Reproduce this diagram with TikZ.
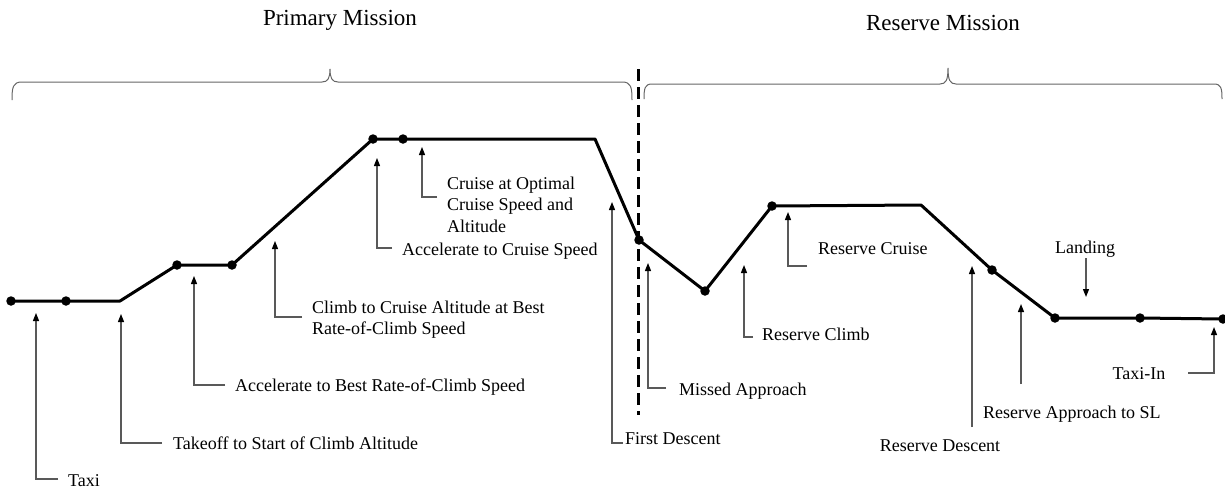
\documentclass[tikz,border=0pt]{standalone}
\usepackage{fontspec}
\setmainfont{Liberation Serif}
\usetikzlibrary{arrows.meta}
\begin{document}
\begin{tikzpicture}[x=1pt,y=-1pt,
  lbl/.style={inner sep=0pt, anchor=base west, font=\fontsize{18}{21.5}\selectfont},
  clbl/.style={inner sep=0pt, anchor=base, font=\fontsize{18}{21.5}\selectfont},
  ttl/.style={inner sep=0pt, anchor=base, font=\fontsize{23}{27}\selectfont},
  ptr/.style={draw=black!65, line width=1.2pt, -{Triangle[length=8pt,width=6pt,color=black]}},
  route/.style={line width=3pt, line join=round},
  pt/.style={circle, fill=black, inner sep=0pt, minimum size=9.5pt},
  brc/.style={draw=black!60, line width=1pt},
  sepline/.style={line width=3pt, dash pattern=on 12pt off 6pt}]
\useasboundingbox (0,0) rectangle (1225,488);

% titles
\node[ttl] (tprim) at (340,25) {Primary Mission};
\node[ttl] (tres) at (943,30) {Reserve Mission};

% braces
\draw[brc] (12,100) .. controls (12,87) and (13,82) .. (22,82) -- (322,82)
  .. controls (328,82) and (330,78) .. (330,69)
  .. controls (330,78) and (332,82) .. (338,82) -- (622,82)
  .. controls (631,82) and (632,87) .. (632,100);
\draw[brc] (644,99) .. controls (644,88) and (645,84) .. (652,84) -- (940,84)
  .. controls (946,84) and (948,80) .. (948,68)
  .. controls (948,80) and (950,84) .. (956,84) -- (1214,84)
  .. controls (1221,84) and (1222,88) .. (1222,99);

% separator
\coordinate (s1) at (638,69);
\coordinate (s2) at (638,415);
\draw[sepline] (s1) -- (s2);

% mission profile points
\node[pt] (p1) at (11,301) {};
\node[pt] (p2) at (66,301) {};
\coordinate (c1) at (120,301);
\node[pt] (p3) at (177,265) {};
\node[pt] (p4) at (232,265) {};
\node[pt] (p5) at (373,139) {};
\node[pt] (p6) at (403,139) {};
\coordinate (c2) at (595,139);
\node[pt] (p7) at (639,240) {};
\node[pt] (p8) at (705,291) {};
\node[pt] (p9) at (772,206) {};
\coordinate (c3) at (921,205);
\node[pt] (p10) at (992,270) {};
\node[pt] (p11) at (1055,318) {};
\node[pt] (p12) at (1140,318) {};
\node[pt] (p13) at (1223,319) {};
\draw[route] (p1.center) -- (p2.center) -- (c1) -- (p3.center) -- (p4.center)
  -- (p5.center) -- (p6.center) -- (c2) -- (p7.center) -- (p8.center)
  -- (p9.center) -- (c3) -- (p10.center) -- (p11.center) -- (p12.center) -- (p13.center);

% labels
\node[lbl] (lTaxi) at (68,486) {Taxi};
\node[lbl] (lTake) at (173,449) {Takeoff to Start of Climb Altitude};
\node[lbl] (lAccB) at (235,391) {Accelerate to Best Rate-of-Climb Speed};
\node[lbl] (lClimbA) at (312,313) {Climb to Cruise Altitude at Best};
\node[lbl] (lClimbB) at (312,334) {Rate-of-Climb Speed};
\node[lbl] (lAccC) at (402,255) {Accelerate to Cruise Speed};
\node[lbl] (lCruA) at (447,189) {Cruise at Optimal};
\node[lbl] (lCruB) at (447,210) {Cruise Speed and};
\node[lbl] (lCruC) at (447,232) {Altitude};
\node[lbl] (lFirst) at (625,444) {First Descent};
\node[lbl] (lMiss) at (679,395) {Missed Approach};
\node[lbl] (lRClimb) at (762,340) {Reserve Climb};
\node[lbl] (lRCruise) at (818,254) {Reserve Cruise};
\node[clbl] (lRDesc) at (940,451) {Reserve Descent};
\node[lbl] (lRAppr) at (983,418) {Reserve Approach to SL};
\node[clbl] (lLand) at (1085,253) {Landing};
\node[clbl] (lTaxiIn) at (1139,379) {Taxi-In};

% pointer arrows
\coordinate (a1s) at (58,479);  \coordinate (a1c) at (36,479);  \coordinate (a1e) at (36,313);
\draw[ptr] (a1s) -- (a1c) -- (a1e);
\coordinate (a2s) at (162,443); \coordinate (a2c) at (121,443); \coordinate (a2e) at (121,314);
\draw[ptr] (a2s) -- (a2c) -- (a2e);
\coordinate (a3s) at (225,385); \coordinate (a3c) at (194,385); \coordinate (a3e) at (194,276);
\draw[ptr] (a3s) -- (a3c) -- (a3e);
\coordinate (a4s) at (302,317); \coordinate (a4c) at (275,317); \coordinate (a4e) at (275,241);
\draw[ptr] (a4s) -- (a4c) -- (a4e);
\coordinate (a5s) at (392,248); \coordinate (a5c) at (377,248); \coordinate (a5e) at (377,158);
\draw[ptr] (a5s) -- (a5c) -- (a5e);
\coordinate (a6s) at (437,197); \coordinate (a6c) at (422,197); \coordinate (a6e) at (422,147);
\draw[ptr] (a6s) -- (a6c) -- (a6e);
\coordinate (a7s) at (623,443); \coordinate (a7c) at (612,443); \coordinate (a7e) at (612,202);
\draw[ptr] (a7s) -- (a7c) -- (a7e);
\coordinate (a8s) at (666,388); \coordinate (a8c) at (648,388); \coordinate (a8e) at (648,263);
\draw[ptr] (a8s) -- (a8c) -- (a8e);
\coordinate (a9s) at (753,337); \coordinate (a9c) at (744,337); \coordinate (a9e) at (744,265);
\draw[ptr] (a9s) -- (a9c) -- (a9e);
\coordinate (a10s) at (807,266); \coordinate (a10c) at (788,266); \coordinate (a10e) at (788,212);
\draw[ptr] (a10s) -- (a10c) -- (a10e);
\coordinate (a11s) at (972,427); \coordinate (a11e) at (972,266);
\draw[ptr] (a11s) -- (a11e);
\coordinate (a12s) at (1021,384); \coordinate (a12e) at (1021,304);
\draw[ptr] (a12s) -- (a12e);
\coordinate (a13s) at (1086,258); \coordinate (a13e) at (1086,297);
\draw[ptr] (a13s) -- (a13e);
\coordinate (a14s) at (1188,373); \coordinate (a14c) at (1214,373); \coordinate (a14e) at (1214,327);
\draw[ptr] (a14s) -- (a14c) -- (a14e);
\end{tikzpicture}
\end{document}
